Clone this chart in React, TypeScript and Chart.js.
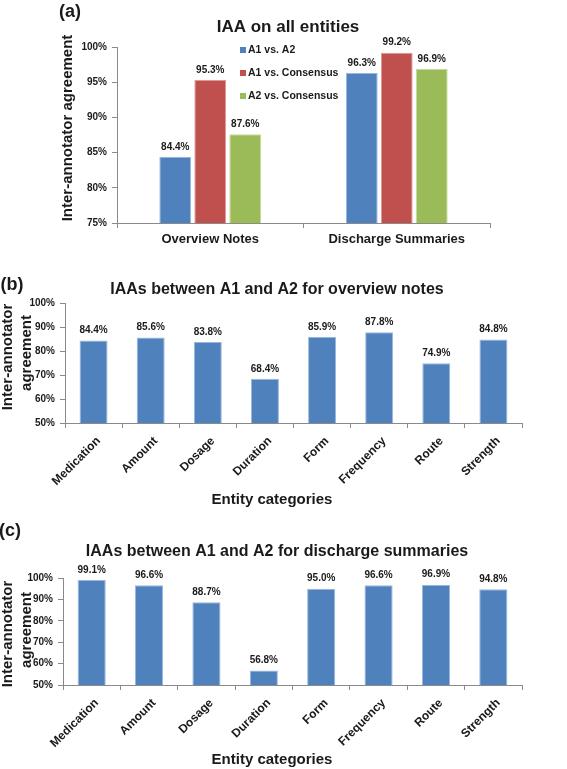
import React, { useEffect, useRef } from 'react';
import { Chart, registerables } from 'chart.js';

Chart.register(...registerables);

// ---------- data ----------
const groupCategories = ['Overview Notes', 'Discharge Summaries'];
const seriesNames = ['A1 vs. A2', 'A1 vs. Consensus', 'A2 vs. Consensus'];
const a1VsA2 = [84.4, 96.3];
const a1VsConsensus = [95.3, 99.2];
const a2VsConsensus = [87.6, 96.9];

const entityCategories = ['Medication', 'Amount', 'Dosage', 'Duration', 'Form', 'Frequency', 'Route', 'Strength'];
const overviewIAA = [84.4, 85.6, 83.8, 68.4, 85.9, 87.8, 74.9, 84.8];
const dischargeIAA = [99.1, 96.6, 88.7, 56.8, 95.0, 96.6, 96.9, 94.8];

const ticksA = { min: 75, max: 100, step: 5 };
const ticksBC = { min: 50, max: 100, step: 10 };

// ---------- styles ----------
const FONT = '"Liberation Sans", Arial, Helvetica, sans-serif';
const BLUE = '#4F81BD';
const RED = '#C0504D';
const GREEN = '#9BBB59';
const BLUE_EDGE = '#9ab6dc';
const RED_EDGE = '#dc9a98';
const GREEN_EDGE = '#c6da9e';
const AXIS = '#8a8a8a';
const TEXT = '#1a1a1a';
const W = 567;

type TextItem = { text: string; x: number; y: number; size: number; rotate?: boolean };
type LegendSpec = { x: number; y: number; gap: number; items: { label: string; color: string }[] };

function makeOverlay(texts: TextItem[], legend?: LegendSpec) {
  return {
    id: 'overlay',
    afterDatasetsDraw(chart: any) {
      const ctx = chart.ctx;
      ctx.save();
      ctx.fillStyle = TEXT;
      ctx.font = `bold 10px ${FONT}`;
      ctx.textAlign = 'center';
      ctx.textBaseline = 'middle';
      chart.data.datasets.forEach((ds: any, i: number) => {
        chart.getDatasetMeta(i).data.forEach((el: any, j: number) => {
          const v = ds.data[j] as number;
          ctx.fillText(v.toFixed(1) + '%', el.x, el.y - 10);
        });
      });
      ctx.restore();
    },
    afterDraw(chart: any) {
      const ctx = chart.ctx;
      ctx.save();
      ctx.fillStyle = TEXT;
      texts.forEach((t) => {
        ctx.save();
        ctx.translate(t.x, t.y);
        if (t.rotate) ctx.rotate(-Math.PI / 2);
        ctx.font = `bold ${t.size}px ${FONT}`;
        ctx.textAlign = 'center';
        ctx.textBaseline = 'middle';
        ctx.fillText(t.text, 0, 0);
        ctx.restore();
      });
      if (legend) {
        legend.items.forEach((it, i) => {
          const cy = legend.y + i * legend.gap;
          ctx.fillStyle = it.color;
          ctx.fillRect(legend.x, cy - 3, 6, 6);
          ctx.fillStyle = TEXT;
          ctx.font = `bold 10.5px ${FONT}`;
          ctx.textAlign = 'left';
          ctx.textBaseline = 'middle';
          ctx.fillText(it.label, legend.x + 8, cy);
        });
      }
      ctx.restore();
    },
  };
}

type PanelProps = {
  height: number;
  area: { L: number; R: number; T: number; B: number };
  labels: string[];
  datasets: any[];
  yTicks: { min: number; max: number; step: number };
  xFontSize: number;
  rotate: boolean;
  barPct: number;
  catPct: number;
  texts: TextItem[];
  legend?: LegendSpec;
};

function BarPanel(p: PanelProps) {
  const ref = useRef<HTMLCanvasElement | null>(null);
  useEffect(() => {
    if (!ref.current) return;
    const { L, R, T, B } = p.area;
    const chart = new Chart(ref.current, {
      type: 'bar',
      data: {
        labels: p.labels,
        datasets: p.datasets.map((d) => ({
          ...d,
          barPercentage: p.barPct,
          categoryPercentage: p.catPct,
          borderWidth: 1,
        })),
      },
      options: {
        animation: false,
        responsive: false,
        layout: { padding: { left: 0, right: W - R, top: T, bottom: 0 } },
        plugins: { legend: { display: false }, tooltip: { enabled: false }, title: { display: false } },
        scales: {
          x: {
            grid: { offset: true, drawOnChartArea: false, drawTicks: true, tickLength: 5, color: AXIS },
            border: { display: true, color: AXIS },
            ticks: {
              autoSkip: false,
              maxRotation: p.rotate ? 45 : 0,
              minRotation: p.rotate ? 45 : 0,
              padding: p.rotate ? 6 : 4,
              labelOffset: p.rotate ? 5 : 0,
              color: TEXT,
              font: { family: FONT, size: p.xFontSize, weight: 'bold' },
            },
            afterFit: (s: any) => {
              s.height = p.height - B;
            },
          },
          y: {
            min: p.yTicks.min,
            max: p.yTicks.max,
            grid: { drawOnChartArea: false, drawTicks: true, tickLength: 5, color: AXIS },
            border: { display: true, color: AXIS },
            ticks: {
              stepSize: p.yTicks.step,
              padding: 5,
              color: TEXT,
              font: { family: FONT, size: 10, weight: 'bold' },
              callback: (v: any) => v + '%',
            },
            afterFit: (s: any) => {
              s.width = L;
            },
          },
        },
      } as any,
      plugins: [makeOverlay(p.texts, p.legend)],
    });
    return () => chart.destroy();
  }, []);
  return <canvas ref={ref} width={W} height={p.height} style={{ display: 'block' }} />;
}

export default function App() {
  return (
    <div style={{ position: 'absolute', left: 0, top: 0, width: W, height: 769, background: '#fff' }}>
      <div style={{ position: 'absolute', left: 0, top: 0 }}>
        <BarPanel
          height={255}
          area={{ L: 117, R: 490, T: 47, B: 223 }}
          labels={groupCategories}
          datasets={[
            { label: seriesNames[0], data: a1VsA2, backgroundColor: BLUE, borderColor: BLUE_EDGE },
            { label: seriesNames[1], data: a1VsConsensus, backgroundColor: RED, borderColor: RED_EDGE },
            { label: seriesNames[2], data: a2VsConsensus, backgroundColor: GREEN, borderColor: GREEN_EDGE },
          ]}
          yTicks={ticksA}
          xFontSize={13}
          rotate={false}
          barPct={0.91}
          catPct={0.563}
          texts={[
            { text: '(a)', x: 70, y: 12, size: 18 },
            { text: 'IAA on all entities', x: 288, y: 27, size: 17 },
            { text: 'Inter-annotator agreement', x: 68, y: 128, size: 15, rotate: true },
          ]}
          legend={{
            x: 240,
            y: 50,
            gap: 23,
            items: [
              { label: seriesNames[0], color: BLUE },
              { label: seriesNames[1], color: RED },
              { label: seriesNames[2], color: GREEN },
            ],
          }}
        />
      </div>
      <div style={{ position: 'absolute', left: 0, top: 258 }}>
        <BarPanel
          height={256}
          area={{ L: 65, R: 522, T: 45, B: 165 }}
          labels={entityCategories}
          datasets={[{ label: seriesNames[0], data: overviewIAA, backgroundColor: BLUE, borderColor: BLUE_EDGE }]}
          yTicks={ticksBC}
          xFontSize={12}
          rotate={true}
          barPct={0.49}
          catPct={1}
          texts={[
            { text: '(b)', x: 12, y: 27, size: 18 },
            { text: 'IAAs between A1 and A2 for overview notes', x: 277, y: 32, size: 16 },
            { text: 'Inter-annotator', x: 8, y: 99, size: 15, rotate: true },
            { text: 'agreement', x: 27, y: 95, size: 15, rotate: true },
            { text: 'Entity categories', x: 272, y: 242, size: 15 },
          ]}
        />
      </div>
      <div style={{ position: 'absolute', left: 0, top: 514 }}>
        <BarPanel
          height={255}
          area={{ L: 63, R: 522, T: 64, B: 171 }}
          labels={entityCategories}
          datasets={[{ label: seriesNames[0], data: dischargeIAA, backgroundColor: BLUE, borderColor: BLUE_EDGE }]}
          yTicks={ticksBC}
          xFontSize={12}
          rotate={true}
          barPct={0.49}
          catPct={1}
          texts={[
            { text: '(c)', x: 10, y: 17, size: 18 },
            { text: 'IAAs between A1 and A2 for discharge summaries', x: 277, y: 38, size: 16 },
            { text: 'Inter-annotator', x: 8, y: 120, size: 15, rotate: true },
            { text: 'agreement', x: 27, y: 116, size: 15, rotate: true },
            { text: 'Entity categories', x: 272, y: 246, size: 15 },
          ]}
        />
      </div>
    </div>
  );
}
